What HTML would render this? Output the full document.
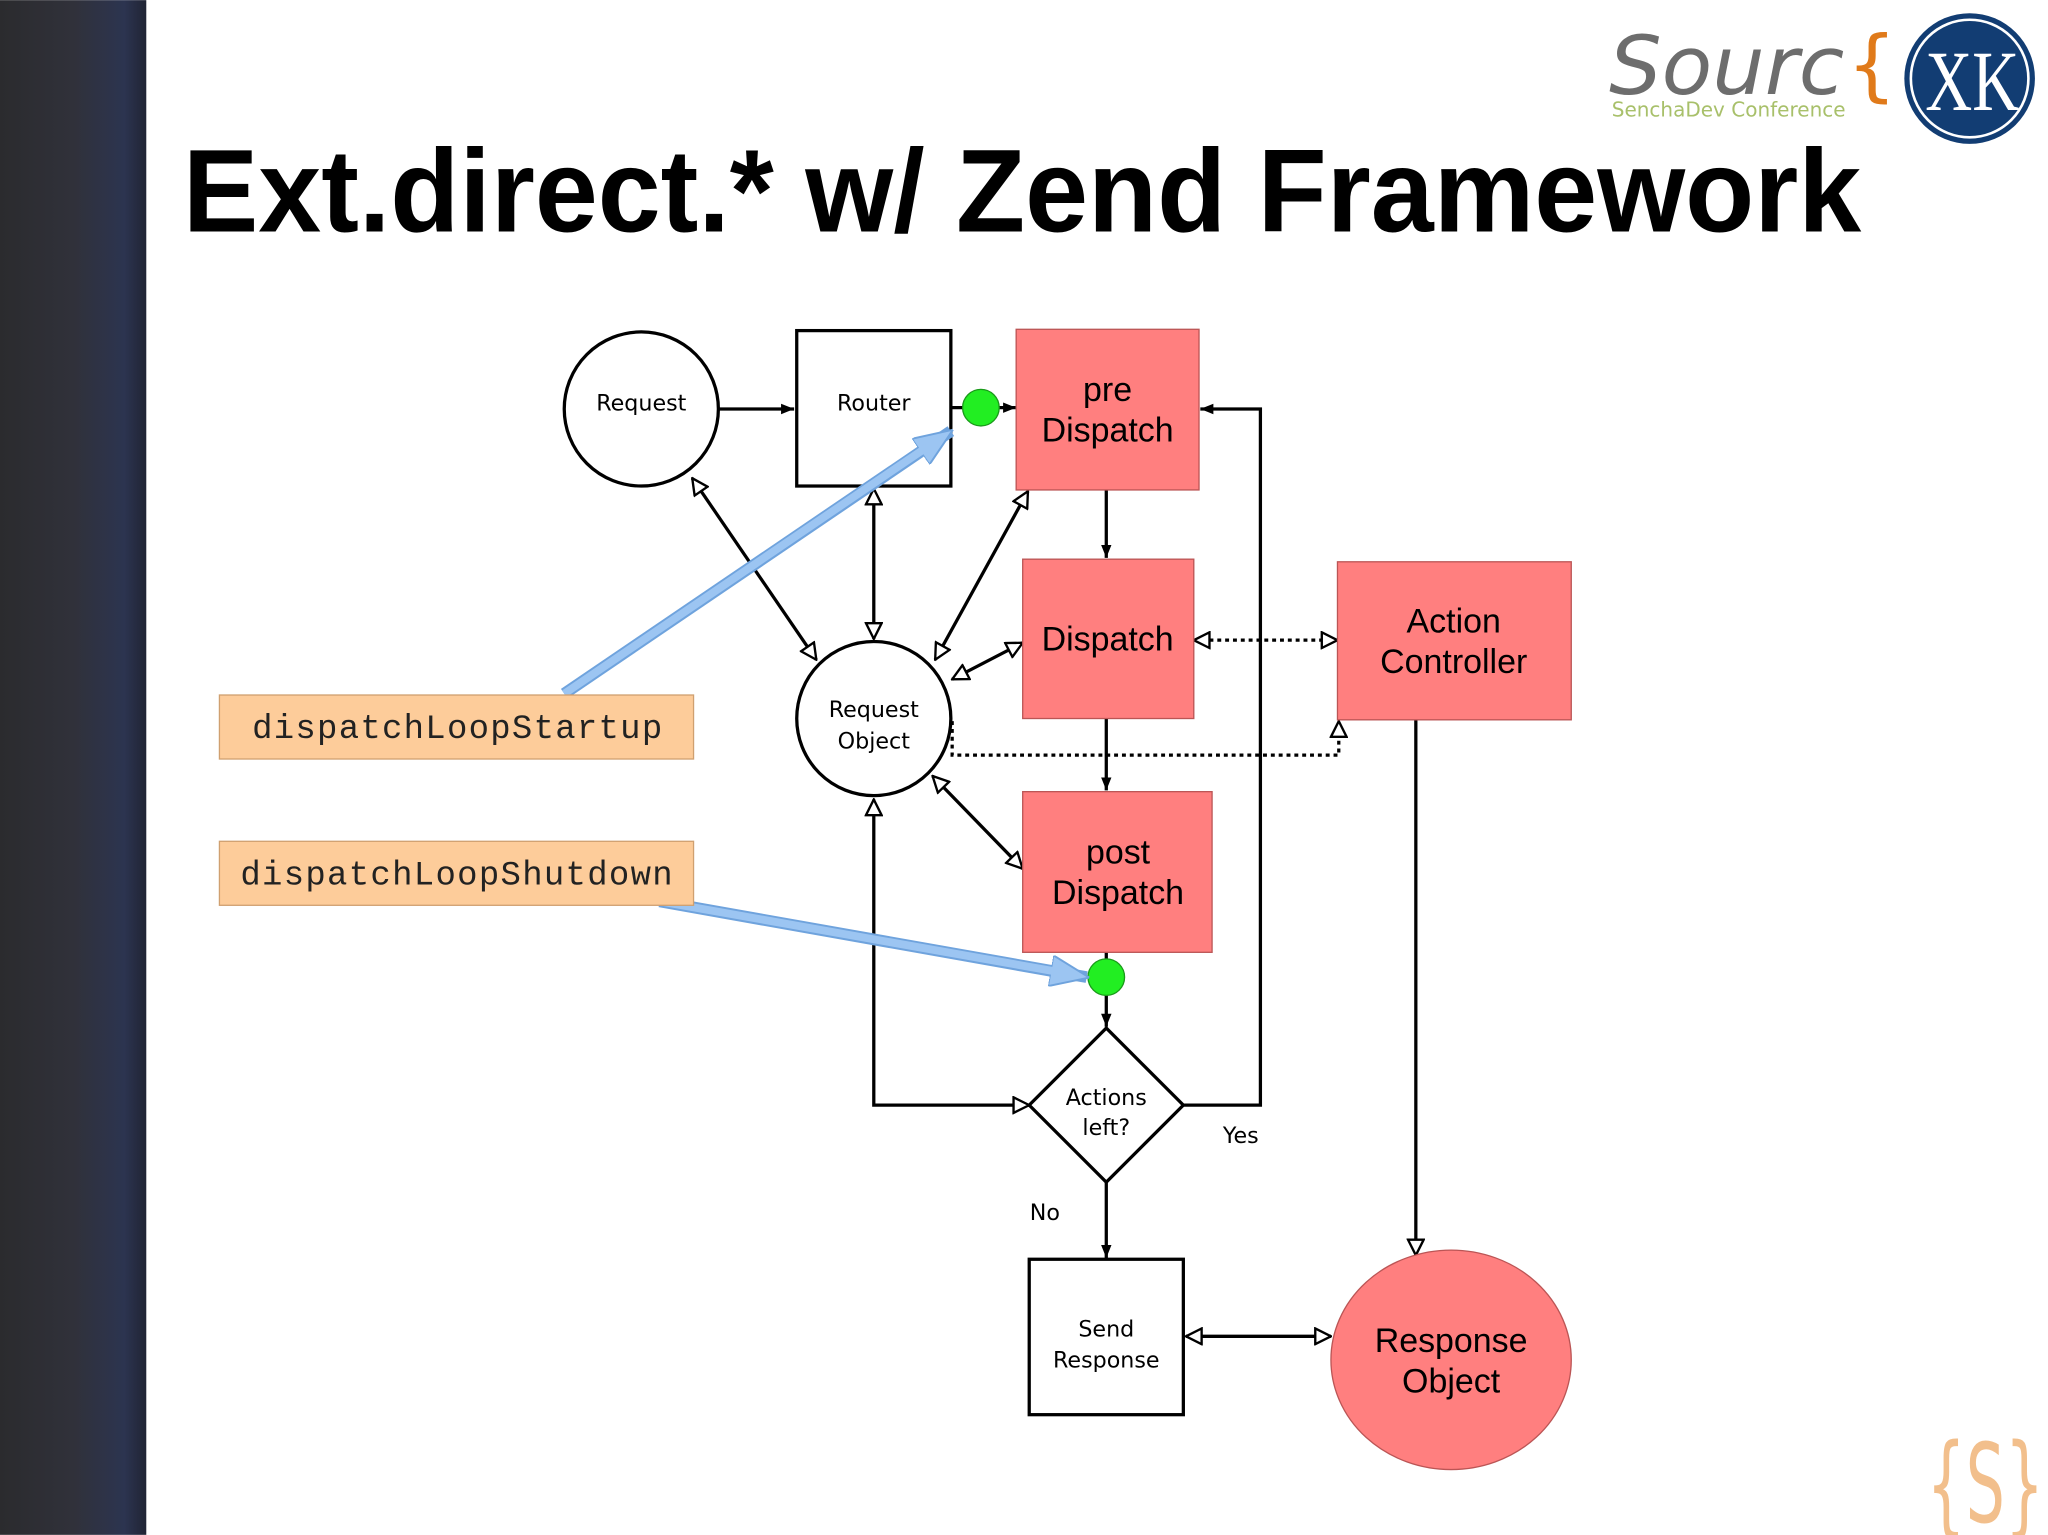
<!DOCTYPE html>
<html><head><meta charset="utf-8"><style>html,body{margin:0;padding:0;background:#fff;overflow:hidden}svg{display:block}</style></head>
<body>
<svg width="2048" height="1535" viewBox="0 0 1568 1175" xmlns="http://www.w3.org/2000/svg" font-family="Liberation Sans, sans-serif">
<defs>
<linearGradient id="bar" x1="0" x2="1" y1="0" y2="0">
<stop offset="0" stop-color="#2b2b2e"/><stop offset="0.5" stop-color="#30313a"/><stop offset="0.85" stop-color="#2c3450"/><stop offset="1" stop-color="#202434"/>
</linearGradient>
<marker id="fa" viewBox="0 0 10 10" refX="10" refY="5" markerWidth="10" markerHeight="10" markerUnits="userSpaceOnUse" orient="auto"><path d="M0,1 L10,5 L0,9z" fill="#000"/></marker>
<marker id="oa" viewBox="0 0 14 14" refX="13" refY="7" markerWidth="14" markerHeight="14" markerUnits="userSpaceOnUse" orient="auto-start-reverse"><path d="M1,1 L13,7 L1,13z" fill="#fff" stroke="#000" stroke-width="1.8"/></marker>
<marker id="ba" viewBox="0 0 30 24" refX="28" refY="12" markerWidth="30" markerHeight="24" markerUnits="userSpaceOnUse" orient="auto"><path d="M0,0 L30,12 L0,24z" fill="#9cc5f2" stroke="#6fa3dd" stroke-width="1.5"/></marker>
</defs>
<rect x="0" y="0" width="112" height="1175" fill="url(#bar)"/>
<!-- logos -->
<text x="1232" y="72" font-family="DejaVu Sans, sans-serif" font-size="62" fill="#6d6d6d" font-style="italic" textLength="180" lengthAdjust="spacingAndGlyphs">Sourc</text>
<text x="1414" y="70" font-family="DejaVu Sans, sans-serif" font-size="60" fill="#e07a1a">{</text>
<text x="1234" y="89" font-family="DejaVu Sans, sans-serif" font-size="15.5" fill="#a8c06a" textLength="179" lengthAdjust="spacingAndGlyphs">SenchaDev Conference</text>
<circle cx="1508" cy="60" r="50" fill="#123d73"/>
<circle cx="1508" cy="60" r="45" fill="none" stroke="#fff" stroke-width="2"/>
<text x="1510" y="84" text-anchor="middle" font-family="Liberation Serif, serif" font-size="66" fill="#fff" textLength="72" lengthAdjust="spacingAndGlyphs">XK</text>
<text x="1520" y="1165" font-family="DejaVu Sans, sans-serif" font-size="84" fill="#f0b070" text-anchor="middle" opacity="0.8" textLength="90" lengthAdjust="spacingAndGlyphs">{S}</text>
<!-- title -->
<text x="140" y="177" font-weight="bold" font-size="90" textLength="1285" lengthAdjust="spacingAndGlyphs" fill="#000">Ext.direct.* w/ Zend Framework</text>
<g stroke="#000" stroke-width="2.5" fill="none">
<line x1="550" y1="313" x2="608" y2="313" marker-end="url(#fa)"/>
<line x1="728" y1="312" x2="778" y2="312" marker-end="url(#fa)"/>
<line x1="847" y1="375" x2="847" y2="427" marker-end="url(#fa)"/>
<line x1="847" y1="550" x2="847" y2="605" marker-end="url(#fa)"/>
<line x1="847" y1="729" x2="847" y2="786" marker-end="url(#fa)"/>
<line x1="847" y1="905" x2="847" y2="963" marker-end="url(#fa)"/>
<polyline points="906,846 965,846 965,313 919,313" marker-end="url(#fa)"/>
<polyline points="669,612 669,846 788,846" marker-start="url(#oa)" marker-end="url(#oa)"/>
<line x1="530" y1="366" x2="625" y2="505" marker-start="url(#oa)" marker-end="url(#oa)"/>
<line x1="669" y1="374" x2="669" y2="489" marker-start="url(#oa)" marker-end="url(#oa)"/>
<line x1="787" y1="376" x2="716" y2="505" marker-start="url(#oa)" marker-end="url(#oa)"/>
<line x1="783" y1="492" x2="729" y2="520" marker-start="url(#oa)" marker-end="url(#oa)"/>
<line x1="783" y1="665" x2="714" y2="594" marker-start="url(#oa)" marker-end="url(#oa)"/>
<line x1="1084" y1="551" x2="1084" y2="961" marker-end="url(#oa)"/>
<line x1="908" y1="1023" x2="1019" y2="1023" marker-start="url(#oa)" marker-end="url(#oa)"/>
</g>
<g stroke="#000" stroke-width="2.5" fill="none" stroke-dasharray="3,3">
<line x1="914" y1="490" x2="1024" y2="490" marker-start="url(#oa)" marker-end="url(#oa)"/>
<polyline points="729,552 729,578 1025,578 1025,552" marker-end="url(#oa)"/>
</g>
<g stroke="#000" stroke-width="2.5">
<circle cx="491" cy="313" r="59" fill="#fff"/>
<rect x="610" y="253" width="118" height="119" fill="#fff"/>
<circle cx="669" cy="550" r="59" fill="#fff"/>
<polygon points="847,787 906,846 847,905 788,846" fill="#fff"/>
<rect x="788" y="964" width="118" height="119" fill="#fff"/>
</g>
<g stroke="#b55" stroke-width="1" fill="#ff7f7f">
<rect x="778" y="252" width="140" height="123"/>
<rect x="783" y="428" width="131" height="122"/>
<rect x="1024" y="430" width="179" height="121"/>
<rect x="783" y="606" width="145" height="123"/>
<ellipse cx="1111" cy="1041" rx="92" ry="84"/>
</g>
<circle cx="751" cy="312" r="14" fill="#22ee22" stroke="#1a9a1a"/>
<circle cx="847" cy="748" r="14" fill="#22ee22" stroke="#1a9a1a"/>
<g font-family="DejaVu Sans, sans-serif" font-size="17" fill="#000" text-anchor="middle">
<text x="491" y="314">Request</text>
<text x="669" y="314">Router</text>
<text x="669" y="549">Request</text>
<text x="669" y="573">Object</text>
<text x="847" y="846">Actions</text>
<text x="847" y="869">left?</text>
<text x="847" y="1023">Send</text>
<text x="847" y="1047">Response</text>
<text x="950" y="875">Yes</text>
<text x="800" y="934">No</text>
</g>
<g font-size="26" fill="#000" text-anchor="middle">
<text x="848" y="307">pre</text>
<text x="848" y="338">Dispatch</text>
<text x="848" y="498">Dispatch</text>
<text x="1113" y="484">Action</text>
<text x="1113" y="515">Controller</text>
<text x="856" y="661">post</text>
<text x="856" y="692">Dispatch</text>
<text x="1111" y="1035">Response</text>
<text x="1111" y="1066">Object</text>
</g>
<line x1="432" y1="531" x2="728" y2="330" stroke="#6fa3dd" stroke-width="9" marker-end="url(#ba)"/>
<line x1="432" y1="531" x2="710" y2="342" stroke="#9cc5f2" stroke-width="6"/>
<line x1="505" y1="690" x2="832" y2="748" stroke="#6fa3dd" stroke-width="9" marker-end="url(#ba)"/>
<line x1="505" y1="690" x2="810" y2="744" stroke="#9cc5f2" stroke-width="6"/>
<rect x="168" y="532" width="363" height="49" fill="#fdcc9a" stroke="#d0a070"/>
<rect x="168" y="644" width="363" height="49" fill="#fdcc9a" stroke="#d0a070"/>
<g font-family="Liberation Mono, monospace" font-size="26" fill="#222">
<text x="193" y="565" textLength="314" lengthAdjust="spacing">dispatchLoopStartup</text>
<text x="184" y="677" textLength="331" lengthAdjust="spacing">dispatchLoopShutdown</text>
</g>
</svg>
</body></html>
